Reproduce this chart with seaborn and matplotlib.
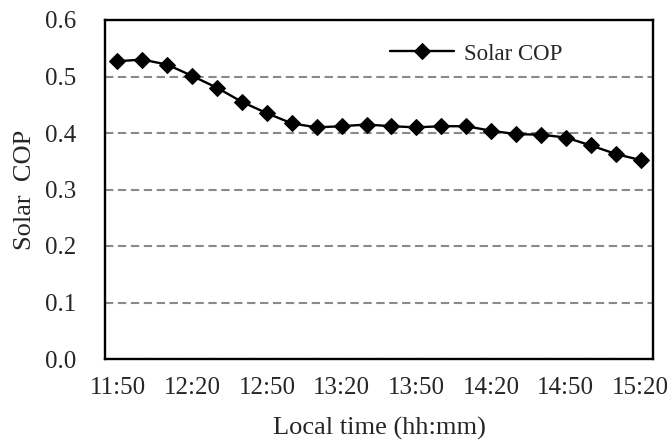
import matplotlib
matplotlib.use("Agg")
import matplotlib.pyplot as plt
import seaborn as sns
import pandas as pd
import numpy as np

times = ["11:50", "12:00", "12:10", "12:20", "12:30", "12:40", "12:50", "13:00",
         "13:10", "13:20", "13:30", "13:40", "13:50", "14:00", "14:10", "14:20",
         "14:30", "14:40", "14:50", "15:00", "15:10", "15:20"]
solar_cop = [0.527, 0.530, 0.521, 0.501, 0.480, 0.455, 0.435, 0.417,
             0.410, 0.412, 0.415, 0.412, 0.410, 0.412, 0.412, 0.404,
             0.398, 0.397, 0.392, 0.378, 0.363, 0.352]
y_ticks = [0.0, 0.1, 0.2, 0.3, 0.4, 0.5, 0.6]
series_name = "Solar COP"

sns.set_style("white")
plt.rcParams["font.family"] = ["Liberation Serif", "DejaVu Serif"]

df = pd.DataFrame({"idx": np.arange(len(times)), "time": times, "cop": solar_cop})

fig = plt.figure(figsize=(6.72, 4.41), dpi=100)
ax = fig.add_axes([105 / 672, 1 - 359 / 441, 548 / 672, 339 / 441])

sns.lineplot(data=df, x="idx", y="cop", ax=ax, color="black", marker="D",
             markersize=8.5, markeredgecolor="black", linewidth=1.7,
             label=series_name, zorder=5)

ax.set_xlim(-0.5, len(times) - 0.5)
ax.set_ylim(0, 0.6)
ax.set_yticks(y_ticks)
ax.set_yticklabels([f"{v:.1f}" for v in y_ticks])

label_pos = list(range(0, len(times), 3))
ax.set_xticks(label_pos)
ax.set_xticklabels([times[i] for i in label_pos])
ax.set_xticks([i + 2.5 for i in range(0, len(times) - 1, 3)], minor=True)

ax.tick_params(axis="x", which="major", length=0, pad=13, labelsize=18)
ax.tick_params(axis="x", which="minor", direction="in", length=6, width=1.6, color="black")
ax.tick_params(axis="y", which="major", direction="in", length=6, width=1.6,
               color="black", pad=21, labelsize=18)

for s in ax.spines.values():
    s.set_visible(True)
    s.set_color("black")
    s.set_linewidth(1.7)

ax.yaxis.grid(True, color="#8a8a8a", linestyle=(0, (4, 2.2)), linewidth=1.5)
ax.xaxis.grid(False)
ax.set_axisbelow(True)

ax.set_xlabel("Local time (hh:mm)", fontsize=19, labelpad=13)
ax.set_ylabel("Solar  COP", fontsize=19, labelpad=6)

leg = ax.legend(loc="center left", bbox_to_anchor=(285 / 548, 305 / 339),
                frameon=False, fontsize=16.5, handlelength=2.8,
                handletextpad=0.45, borderpad=0, borderaxespad=0)

fig.savefig("out.png", dpi=100)
